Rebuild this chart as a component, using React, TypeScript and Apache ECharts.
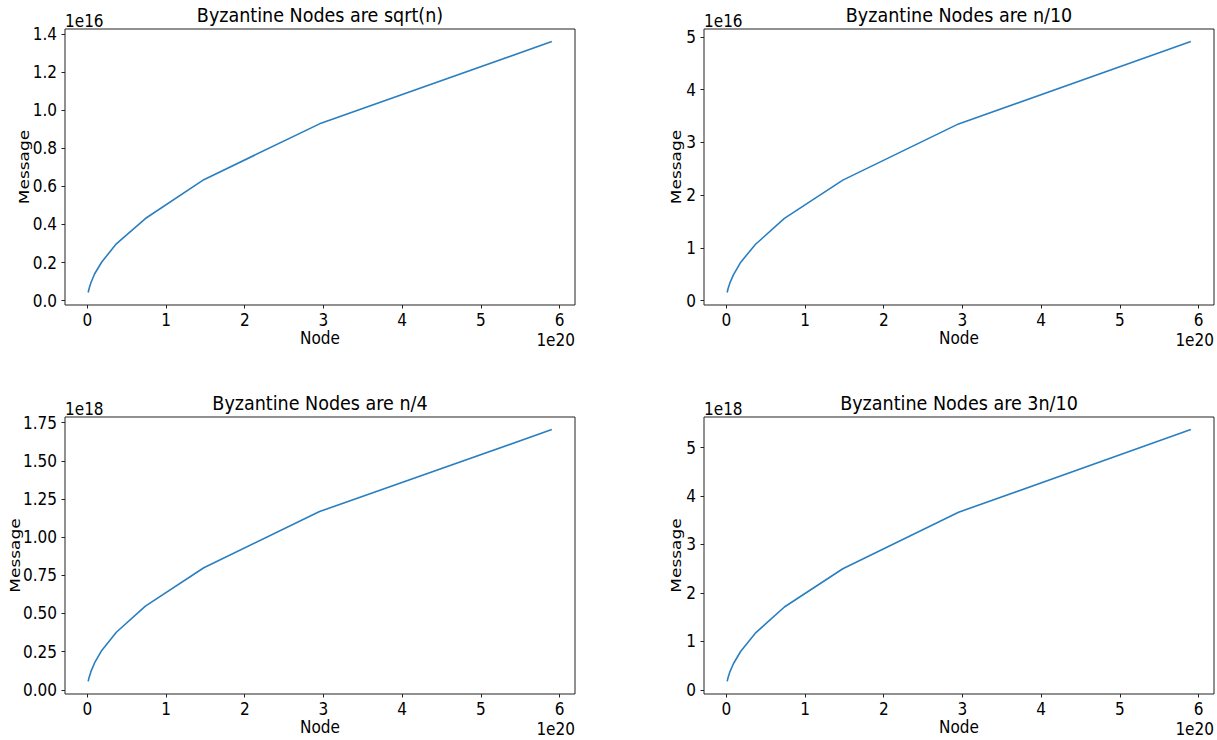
import React, { useEffect, useRef } from "react";
import * as echarts from "echarts";

// ---- Data ----
const NODES = [1.15e18, 2.31e18, 4.61e18, 9.22e18, 1.84e19, 3.69e19, 7.38e19, 1.48e20, 2.95e20, 5.9e20];

const MSG_SQRT = [0.043e16, 0.064e16, 0.094e16, 0.14e16, 0.203e16, 0.298e16, 0.431e16, 0.635e16, 0.928e16, 1.36e16];
const MSG_N10 = [0.157e16, 0.231e16, 0.338e16, 0.496e16, 0.73e16, 1.065e16, 1.56e16, 2.285e16, 3.35e16, 4.91e16];
const MSG_N4 = [0.055e18, 0.081e18, 0.119e18, 0.176e18, 0.258e18, 0.377e18, 0.548e18, 0.8e18, 1.168e18, 1.705e18];
const MSG_3N10 = [0.175e18, 0.256e18, 0.373e18, 0.545e18, 0.797e18, 1.17e18, 1.71e18, 2.5e18, 3.665e18, 5.37e18];

const TITLES = [
  "Byzantine Nodes are sqrt(n)",
  "Byzantine Nodes are n/10",
  "Byzantine Nodes are n/4",
  "Byzantine Nodes are 3n/10",
];

const X_TICKS = [0, 1, 2, 3, 4, 5, 6];
const X_EXP = 20;

const Y_TICKS_SQRT = [0, 0.2, 0.4, 0.6, 0.8, 1.0, 1.2, 1.4];
const Y_TICKS_N10 = [0, 1, 2, 3, 4, 5];
const Y_TICKS_N4 = [0, 0.25, 0.5, 0.75, 1.0, 1.25, 1.5, 1.75];
const Y_TICKS_3N10 = [0, 1, 2, 3, 4, 5];
const Y_EXPS = [16, 16, 18, 18];
const Y_DECIMALS = [1, 0, 2, 0];

// ---- Layout ----
const GRIDS = [
  { left: 65, top: 29, width: 510, height: 276 },
  { left: 704, top: 29, width: 510, height: 276 },
  { left: 65, top: 417, width: 510, height: 277 },
  { left: 704, top: 417, width: 510, height: 277 },
];
const MSG_X = [25, 676.5, 15.3, 676.5];

const NARROW = "'Liberation Sans Narrow', 'Arial Narrow', 'DejaVu Sans Condensed', sans-serif";
const WIDE = "'DejaVu Sans', Verdana, sans-serif";
const LINE = "#222";

function padRange(vals: number[]) {
  const mn = Math.min(...vals);
  const mx = Math.max(...vals);
  const m = (mx - mn) * 0.05;
  return [mn - m, mx + m];
}

export default function App() {
  const ref = useRef<HTMLDivElement>(null);

  useEffect(() => {
    if (!ref.current) return;
    const chart = echarts.init(ref.current, undefined, { renderer: "svg" });

    const series = [MSG_SQRT, MSG_N10, MSG_N4, MSG_3N10];
    const yTicks = [Y_TICKS_SQRT, Y_TICKS_N10, Y_TICKS_N4, Y_TICKS_3N10];
    const [xMin, xMax] = padRange(NODES);

    const xAxis: any[] = [];
    const yAxis: any[] = [];
    const seriesOpt: any[] = [];
    const graphic: any[] = [];

    GRIDS.forEach((g, i) => {
      const xScale = Math.pow(10, X_EXP);
      const yScale = Math.pow(10, Y_EXPS[i]);
      const [yMin, yMax] = padRange(series[i]);
      xAxis.push({
        type: "value",
        gridIndex: i,
        min: xMin,
        max: xMax,
        axisLine: { show: false, onZero: false },
        splitLine: { show: false },
        axisTick: {
          show: true,
          length: 3.5,
          lineStyle: { color: LINE, width: 1 },
          customValues: X_TICKS.map((t) => t * xScale),
        },
        axisLabel: {
          show: true,
          margin: 6,
          color: "#000",
          fontSize: 17,
          fontFamily: NARROW,
          customValues: X_TICKS.map((t) => t * xScale),
          formatter: (v: number) => String(Math.round(v / xScale)),
        },
      });
      yAxis.push({
        type: "value",
        gridIndex: i,
        min: yMin,
        max: yMax,
        axisLine: { show: false, onZero: false },
        splitLine: { show: false },
        axisTick: {
          show: true,
          length: 3.5,
          lineStyle: { color: LINE, width: 1 },
          customValues: yTicks[i].map((t) => t * yScale),
        },
        axisLabel: {
          show: true,
          margin: 8,
          color: "#000",
          fontSize: 17,
          fontFamily: NARROW,
          customValues: yTicks[i].map((t) => t * yScale),
          formatter: (v: number) => (v / yScale).toFixed(Y_DECIMALS[i]),
        },
      });
      seriesOpt.push({
        type: "line",
        xAxisIndex: i,
        yAxisIndex: i,
        showSymbol: false,
        symbol: "none",
        lineStyle: { color: "#2a7fc0", width: 1.6 },
        data: NODES.map((x, k) => [x, series[i][k]]),
      });

      const cx = g.left + g.width / 2;
      const bottom = g.top + g.height;
      const txt = (
        x: number,
        y: number,
        text: string,
        size: number,
        family: string,
        align: string,
        rotation = 0,
        scaleY = 1
      ) => ({
        type: "text",
        x,
        y,
        rotation,
        scaleY,
        style: {
          text,
          fill: "#000",
          fontSize: size,
          fontFamily: family,
          textAlign: align,
          textVerticalAlign: "middle",
        },
      });
      graphic.push(txt(cx, g.top - 14, TITLES[i], 19.5, NARROW, "center"));
      graphic.push(txt(g.left, g.top - 8.5, `1e${Y_EXPS[i]}`, 17, NARROW, "left"));
      graphic.push(txt(g.left + g.width, bottom + 34.5, `1e${X_EXP}`, 17, NARROW, "right"));
      graphic.push(txt(cx, bottom + 32.5, "Node", 17, NARROW, "center"));
      graphic.push(txt(MSG_X[i], g.top + g.height / 2, "Message", 17, WIDE, "center", Math.PI / 2, 0.8));
    });

    chart.setOption({
      animation: false,
      backgroundColor: "#fff",
      grid: GRIDS.map((g) => ({
        ...g,
        show: true,
        borderColor: LINE,
        borderWidth: 1,
        backgroundColor: "transparent",
        containLabel: false,
      })),
      xAxis,
      yAxis,
      series: seriesOpt,
      graphic,
    });

    return () => chart.dispose();
  }, []);

  return (
    <div
      ref={ref}
      style={{ position: "absolute", left: 0, top: 0, width: 1217, height: 740, background: "#fff" }}
    />
  );
}
